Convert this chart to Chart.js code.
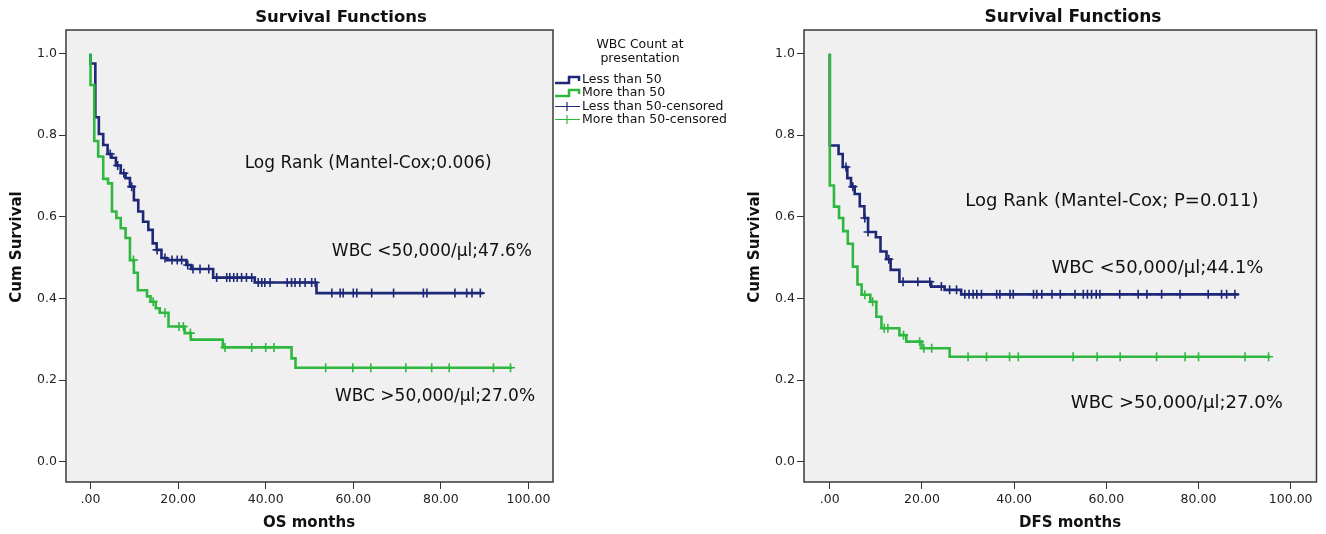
<!DOCTYPE html>
<html>
<head>
<meta charset="utf-8">
<script src="https://cdn.jsdelivr.net/npm/chart.js@4"></script>
<style>
  html, body { margin: 0; padding: 0; background: #fff; }
  #wrap { position: relative; width: 1326px; height: 534px; overflow: hidden; }
  #os { position: absolute; left: 0; top: 0; }
  #dfs { position: absolute; left: 740px; top: 0; }
</style>
</head>
<body>
<div id="wrap">
  <canvas id="os" width="740" height="534" style="width:740px;height:534px"></canvas>
  <canvas id="dfs" width="586" height="534" style="width:586px;height:534px"></canvas>
</div>
<script>
// axis ticks
const xTicks = [0, 20, 40, 60, 80, 100];
const xTickLabels = ['.00', '20.00', '40.00', '60.00', '80.00', '100.00'];
const yTicks = [0, 0.2, 0.4, 0.6, 0.8, 1.0];
const yTickLabels = ['0.0', '0.2', '0.4', '0.6', '0.8', '1.0'];

// OS: step points (time, survival after the drop) and censored times
const osLessT = [0, 0, 1.1, 1.9, 2.9, 3.9, 4.8, 5.8, 6.9, 8.0, 9.0, 9.9, 10.9, 12.0, 13.2, 14.2, 15.1, 16.2, 17.4, 21.9, 23.0, 28.0, 37.5, 51.6, 89.7];
const osLessS = [1.0, 0.976, 0.844, 0.803, 0.776, 0.754, 0.745, 0.726, 0.707, 0.695, 0.674, 0.641, 0.613, 0.588, 0.568, 0.535, 0.519, 0.499, 0.494, 0.482, 0.472, 0.451, 0.439, 0.413, 0.413];
const osLessCens = [4.5, 6.2, 7.6, 9.4, 15.2, 17.0, 18.6, 19.8, 20.8, 22.2, 23.4, 25.0, 27.0, 28.8, 31.1, 31.8, 32.7, 33.5, 34.5, 35.6, 36.8, 38.3, 39.1, 39.8, 41.0, 44.9, 45.9, 46.7, 47.8, 49.0, 50.5, 51.3, 55.1, 57.0, 57.7, 60.0, 60.8, 64.2, 69.2, 76.0, 76.8, 83.2, 85.9, 87.1, 89.0];
const osMoreT = [0, 0, 0.85, 1.75, 2.9, 4.0, 4.9, 5.9, 6.9, 8.0, 9.0, 9.9, 10.8, 12.9, 13.7, 14.9, 15.8, 17.8, 21.5, 22.9, 30.2, 45.9, 46.8, 96.2];
const osMoreS = [1.0, 0.923, 0.786, 0.748, 0.693, 0.682, 0.613, 0.597, 0.572, 0.548, 0.494, 0.463, 0.42, 0.405, 0.392, 0.376, 0.365, 0.331, 0.315, 0.299, 0.28, 0.253, 0.23, 0.23];
const osMoreCens = [9.8, 14.3, 17.0, 20.2, 21.2, 22.8, 30.7, 36.8, 40.0, 41.9, 53.7, 59.9, 64.0, 72.0, 77.9, 81.9, 92.0, 95.9];

// DFS
const dfsLessT = [0, 0, 1.9, 2.8, 3.8, 4.6, 5.4, 6.5, 7.5, 8.3, 10.0, 11.0, 12.3, 13.2, 15.1, 22.0, 24.9, 28.5, 88.7];
const dfsLessS = [1.0, 0.775, 0.754, 0.722, 0.695, 0.674, 0.656, 0.626, 0.597, 0.563, 0.55, 0.515, 0.496, 0.47, 0.441, 0.429, 0.421, 0.41, 0.41];
const dfsLessCens = [3.5, 5.0, 7.6, 8.3, 12.8, 15.9, 19.1, 21.7, 24.2, 26.0, 27.5, 29.3, 30.2, 31.1, 31.9, 32.9, 36.2, 36.9, 39.1, 39.8, 44.2, 44.9, 46.0, 48.2, 50.0, 53.2, 55.0, 55.9, 56.8, 57.8, 58.6, 62.9, 66.9, 68.8, 72.0, 76.0, 82.1, 85.0, 86.1, 87.9];
const dfsMoreT = [0, 0, 0.9, 2.0, 2.9, 3.9, 5.0, 6.0, 6.9, 8.8, 10.1, 11.2, 15.1, 16.6, 19.9, 26.0, 95.5];
const dfsMoreS = [1.0, 0.677, 0.625, 0.597, 0.565, 0.534, 0.478, 0.434, 0.409, 0.392, 0.355, 0.327, 0.31, 0.294, 0.278, 0.257, 0.257];
const dfsMoreCens = [7.6, 9.3, 11.8, 12.6, 16.0, 19.5, 20.4, 22.1, 30.0, 34.0, 39.0, 40.9, 52.8, 58.0, 63.0, 70.9, 77.1, 80.0, 90.1, 95.2];

const legendTitle = ['WBC Count at', 'presentation'];
const legendLabels = ['Less than 50', 'More than 50', 'Less than 50-censored', 'More than 50-censored'];

const BLUE = '#1d2877';
const GREEN = '#2fb83f';
const FONT = '"DejaVu Sans", sans-serif';

const toXY = (ts, ss) => ts.map((t, i) => ({ x: t, y: ss[i] }));

// survival value of the step curve at time t
function survAt(ts, ss, t) {
  let s = ss[0];
  for (let i = 0; i < ts.length; i++) if (ts[i] <= t) s = ss[i];
  return s;
}
const censPoints = (ts, ss, cs) => cs.map(t => ({ x: t, y: survAt(ts, ss, t) }));

function drawLegend(ctx) {
  ctx.textAlign = 'center';
  ctx.textBaseline = 'middle';
  ctx.fillStyle = '#111';
  ctx.font = '12.5px ' + FONT;
  ctx.fillText(legendTitle[0], 640, 45);
  ctx.fillText(legendTitle[1], 640, 59);
  ctx.textAlign = 'left';
  const rows = [80, 93, 106.5, 119.5];
  const cols = [BLUE, GREEN, BLUE, GREEN];
  rows.forEach((y, i) => {
    ctx.strokeStyle = cols[i];
    ctx.beginPath();
    if (i < 2) {
      ctx.lineWidth = 2.5;
      ctx.moveTo(555, y + 3);
      ctx.lineTo(569, y + 3);
      ctx.lineTo(569, y - 3);
      ctx.lineTo(579, y - 3);
      ctx.lineTo(579, y + 1);
    } else {
      ctx.lineWidth = 1.2;
      ctx.moveTo(555, y);
      ctx.lineTo(580, y);
      ctx.moveTo(567, y - 4.5);
      ctx.lineTo(567, y + 4.5);
    }
    ctx.stroke();
    ctx.fillStyle = '#111';
    ctx.font = '12.5px ' + FONT;
    ctx.fillText(legendLabels[i], 582, y);
  });
}

function makeDecor(cfg) {
  return {
    id: 'decor',
    beforeDraw(chart) {
      const { ctx, chartArea: a } = chart;
      ctx.save();
      ctx.fillStyle = '#f0f0f0';
      ctx.fillRect(a.left, a.top, a.right - a.left, a.bottom - a.top);
      ctx.restore();
    },
    afterDraw(chart) {
      const { ctx, chartArea: a, scales } = chart;
      ctx.save();
      ctx.strokeStyle = '#3a3a3a';
      ctx.lineWidth = 1.5;
      ctx.strokeRect(a.left, a.top, a.right - a.left, a.bottom - a.top);

      ctx.fillStyle = '#111';
      ctx.textAlign = 'center';
      ctx.textBaseline = 'alphabetic';
      ctx.font = 'bold ' + cfg.titleSize + 'px ' + FONT;
      ctx.fillText('Survival Functions', cfg.titleX, 22);
      ctx.font = 'bold 15px ' + FONT;
      ctx.fillText(cfg.xTitle, cfg.xTitleX, 527);
      ctx.save();
      ctx.translate(cfg.yTitleX, 247);
      ctx.rotate(-Math.PI / 2);
      ctx.textBaseline = 'middle';
      ctx.fillText('Cum Survival', 0, 0);
      ctx.restore();

      ctx.textAlign = 'left';
      ctx.font = cfg.noteSize + 'px ' + FONT;
      cfg.notes.forEach(n => {
        ctx.fillText(n.text, scales.x.getPixelForValue(n.x), scales.y.getPixelForValue(n.y));
      });
      if (cfg.legend) drawLegend(ctx);
      ctx.restore();
    }
  };
}

function makeChart(id, d, cfg) {
  const tickFont = { family: 'DejaVu Sans', size: 12.5 };
  const grid = { display: true, drawOnChartArea: false, drawTicks: true, tickLength: 7, color: '#333', lineWidth: 1 };
  return new Chart(document.getElementById(id), {
    type: 'line',
    data: {
      datasets: [
        { label: legendLabels[0], data: toXY(d.lessT, d.lessS), borderColor: BLUE, borderWidth: 2.6, stepped: true, pointRadius: 0, fill: false, order: 3 },
        { label: legendLabels[1], data: toXY(d.moreT, d.moreS), borderColor: GREEN, borderWidth: 2.6, stepped: true, pointRadius: 0, fill: false, order: 2 },
        { label: legendLabels[2], data: censPoints(d.lessT, d.lessS, d.lessC), showLine: false, pointStyle: 'cross', pointRadius: 4.5, pointBorderWidth: 1.6, borderColor: BLUE, pointBorderColor: BLUE, order: 1 },
        { label: legendLabels[3], data: censPoints(d.moreT, d.moreS, d.moreC), showLine: false, pointStyle: 'cross', pointRadius: 4.5, pointBorderWidth: 1.6, borderColor: GREEN, pointBorderColor: GREEN, order: 0 }
      ]
    },
    options: {
      responsive: false,
      animation: false,
      events: [],
      layout: { padding: { top: 30, right: cfg.padRight, left: 0, bottom: 0 } },
      plugins: { legend: { display: false }, tooltip: { enabled: false } },
      scales: {
        x: {
          type: 'linear', min: -5.6, max: 105.6,
          afterBuildTicks: s => { s.ticks = xTicks.map(v => ({ value: v })); },
          afterFit: s => { s.height = 52; },
          ticks: { autoSkip: false, maxRotation: 0, padding: 3, font: tickFont, color: '#222', callback: (v, i) => xTickLabels[i] },
          grid: grid,
          border: { display: false }
        },
        y: {
          type: 'linear', min: -0.05, max: 1.058,
          afterBuildTicks: s => { s.ticks = yTicks.map(v => ({ value: v })); },
          afterFit: s => { s.width = cfg.yWidth; },
          ticks: { autoSkip: false, padding: 2, font: tickFont, color: '#222', callback: (v, i) => yTickLabels[i] },
          grid: grid,
          border: { display: false }
        }
      }
    },
    plugins: [makeDecor(cfg)]
  });
}

makeChart('os',
  { lessT: osLessT, lessS: osLessS, lessC: osLessCens, moreT: osMoreT, moreS: osMoreS, moreC: osMoreCens },
  {
    padRight: 187, yWidth: 66, titleSize: 16.5, titleX: 341, xTitle: 'OS months', xTitleX: 309, yTitleX: 17.5,
    noteSize: 17, legend: true,
    notes: [
      { text: 'Log Rank (Mantel-Cox;0.006)', x: 35.2, y: 0.72 },
      { text: 'WBC <50,000/µl;47.6%', x: 55.1, y: 0.503 },
      { text: 'WBC >50,000/µl;27.0%', x: 55.8, y: 0.149 }
    ]
  });

makeChart('dfs',
  { lessT: dfsLessT, lessS: dfsLessS, lessC: dfsLessCens, moreT: dfsMoreT, moreS: dfsMoreS, moreC: dfsMoreCens },
  {
    padRight: 9.5, yWidth: 64, titleSize: 17, titleX: 333, xTitle: 'DFS months', xTitleX: 330, yTitleX: 15,
    noteSize: 18, legend: false,
    notes: [
      { text: 'Log Rank (Mantel-Cox; P=0.011)', x: 29.4, y: 0.627 },
      { text: 'WBC <50,000/µl;44.1%', x: 48.1, y: 0.462 },
      { text: 'WBC >50,000/µl;27.0%', x: 52.3, y: 0.132 }
    ]
  });
</script>
</body>
</html>
